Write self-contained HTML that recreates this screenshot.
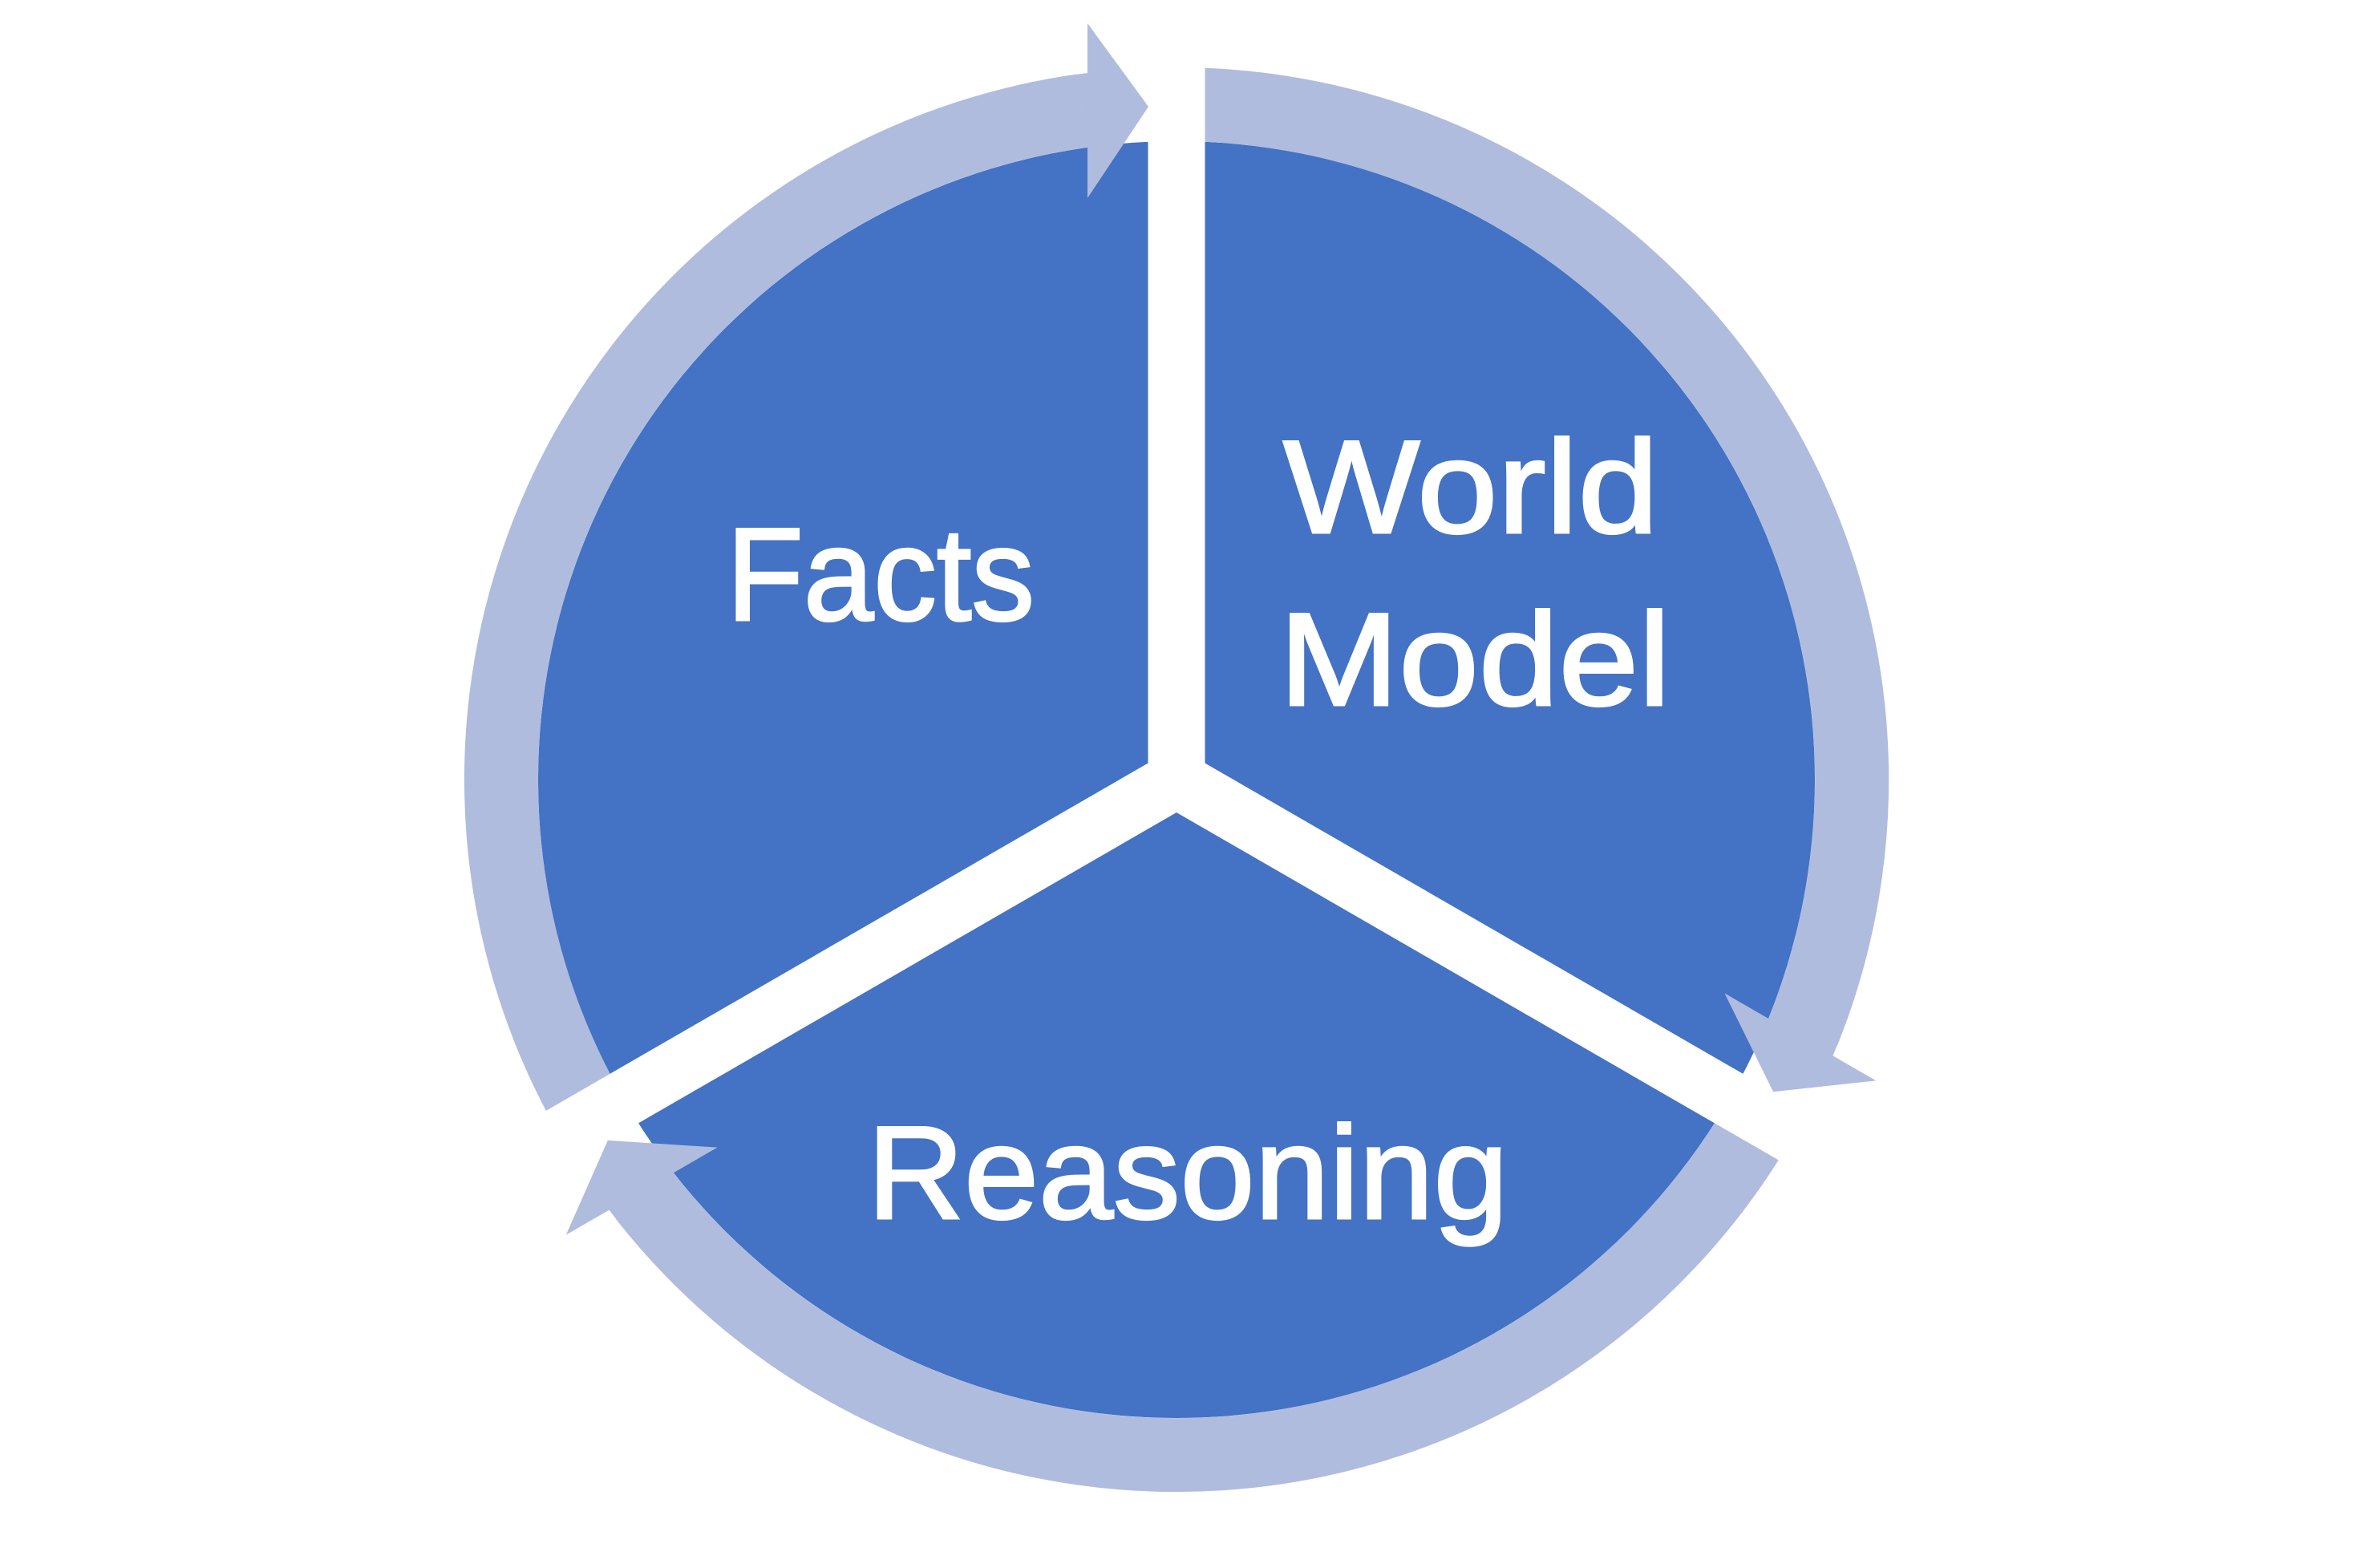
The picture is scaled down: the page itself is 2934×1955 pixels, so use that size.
<!DOCTYPE html>
<html><head><meta charset="utf-8"><style>
html,body{margin:0;padding:0;background:#fff;overflow:hidden;width:2934px;height:1955px;}
svg{display:block;}
text{font-family:"Liberation Sans",sans-serif;fill:#fff;}
</style></head><body>
<svg width="2934" height="1955" viewBox="0 0 2934 1955" xmlns="http://www.w3.org/2000/svg">
<defs>
<g id="seg">
<path d="M730.6,1380.2 A842,842 0 0 1 1348.5,138.2" fill="none" stroke="#AFBCDE" stroke-width="92"/>
<polygon points="1341.9,92.9 1356.5,91 1356.5,183.8 1354.8,183.9" fill="#AFBCDE"/>
</g>
</defs>
<rect width="2934" height="1955" fill="#fff"/>
<circle cx="1467" cy="972" r="796" fill="#4472C4"/>
<use href="#seg"/>
<use href="#seg" transform="rotate(120 1467 972)"/>
<use href="#seg" transform="rotate(240 1467 972)"/>
<g fill="#fff">
<rect x="1431.5" y="-100" width="71" height="1072"/>
<rect x="1431.5" y="-100" width="71" height="1072" transform="rotate(120 1467 972)"/>
<rect x="1431.5" y="-100" width="71" height="1072" transform="rotate(240 1467 972)"/>
</g>
<g fill="#AFBCDE">
<polygon points="1356,29 1432,133 1356,247"/>
<polygon points="1356,29 1432,133 1356,247" transform="rotate(120 1467 972)"/>
<polygon points="1356,29 1432,133 1356,247" transform="rotate(240 1467 972)"/>
</g>
<text x="1098" y="773" font-size="165" text-anchor="middle" textLength="384" lengthAdjust="spacingAndGlyphs" stroke="#fff" stroke-width="3">Facts</text>
<text x="1834" y="664" font-size="165" text-anchor="middle" textLength="468" lengthAdjust="spacingAndGlyphs" stroke="#fff" stroke-width="3">World</text>
<text x="1839" y="879" font-size="165" text-anchor="middle" textLength="488" lengthAdjust="spacingAndGlyphs" stroke="#fff" stroke-width="3">Model</text>
<text x="1481" y="1519" font-size="165" text-anchor="middle" textLength="799" lengthAdjust="spacingAndGlyphs" stroke="#fff" stroke-width="3">Reasoning</text>
</svg>
</body></html>
